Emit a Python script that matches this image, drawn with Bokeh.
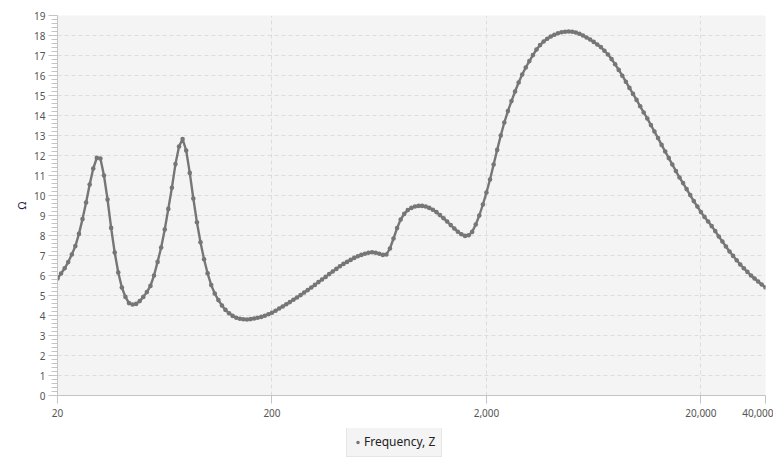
from bokeh.plotting import figure
from bokeh.layouts import column
from bokeh.models import (Range1d, FixedTicker, SingleIntervalTicker, NumeralTickFormatter,
                          Legend, LegendItem, ColumnDataSource)
from bokeh.embed import file_html
from bokeh.resources import INLINE

freq = [
    20.0, 20.78, 21.6, 22.44, 23.32, 24.23, 25.18, 26.16, 27.19, 28.25,
    29.36, 30.5, 31.7, 32.94, 34.23, 35.57, 36.96, 38.4, 39.91, 41.47,
    43.09, 44.77, 46.53, 48.35, 50.24, 52.2, 54.25, 56.37, 58.57, 60.86,
    63.25, 65.72, 68.29, 70.96, 73.74, 76.62, 79.62, 82.74, 85.97, 89.34,
    92.83, 96.46, 100.2, 104.2, 108.2, 112.5, 116.9, 121.4, 126.2, 131.1,
    136.3, 141.6, 147.1, 152.9, 158.9, 165.1, 171.5, 178.3, 185.2, 192.5,
    200, 207.8, 216, 224.4, 233.2, 242.3, 251.8, 261.6, 271.9, 282.5,
    293.6, 305, 317, 329.4, 342.3, 355.7, 369.6, 384, 399.1, 414.7,
    430.9, 447.7, 465.3, 483.5, 502.4, 522, 542.5, 563.7, 585.7, 608.6,
    632.5, 657.2, 682.9, 709.6, 737.4, 766.2, 796.2, 827.4, 859.7, 893.4,
    928.3, 964.6, 1002, 1042, 1082, 1125, 1169, 1214, 1262, 1311,
    1363, 1416, 1471, 1529, 1589, 1651, 1715, 1783, 1852, 1925,
    2000, 2078, 2160, 2244, 2332, 2423, 2518, 2616, 2719, 2825,
    2936, 3050, 3170, 3294, 3423, 3557, 3696, 3840, 3991, 4147,
    4309, 4477, 4653, 4835, 5024, 5220, 5425, 5637, 5857, 6086,
    6325, 6572, 6829, 7096, 7374, 7662, 7962, 8274, 8597, 8934,
    9283, 9646, 10020, 10420, 10820, 11250, 11690, 12140, 12620, 13110,
    13630, 14160, 14710, 15290, 15890, 16510, 17150, 17830, 18520, 19250,
    20000, 20780, 21600, 22440, 23320, 24230, 25180, 26160, 27190, 28250,
    29360, 30500, 31700, 32940, 34230, 35570, 36960, 38400, 40000,
]

impedance = [
    5.85, 6.1, 6.36, 6.67, 7.05, 7.47, 8.08, 8.82, 9.65, 10.55,
    11.35, 11.88, 11.85, 11.0, 9.8, 8.38, 7.15, 6.15, 5.4, 4.93,
    4.62, 4.55, 4.58, 4.72, 4.93, 5.17, 5.48, 6.0, 6.68, 7.4,
    8.3, 9.33, 10.39, 11.57, 12.45, 12.82, 12.25, 11.13, 9.85, 8.66,
    7.66, 6.81, 6.11, 5.52, 5.1, 4.77, 4.5, 4.28, 4.11, 3.98,
    3.89, 3.84, 3.81, 3.8, 3.82, 3.85, 3.89, 3.93, 3.99, 4.06,
    4.14, 4.24, 4.35, 4.45, 4.56, 4.67, 4.79, 4.9, 5.02, 5.15,
    5.27, 5.4, 5.53, 5.67, 5.8, 5.93, 6.07, 6.2, 6.33, 6.46,
    6.58, 6.68, 6.78, 6.88, 6.96, 7.03, 7.09, 7.14, 7.16, 7.14,
    7.09, 7.03, 7.05, 7.35, 7.85, 8.37, 8.8, 9.08, 9.27, 9.38,
    9.45, 9.48, 9.48, 9.45, 9.38, 9.29, 9.17, 9.02, 8.86, 8.7,
    8.52, 8.35, 8.19, 8.06, 7.98, 8.01, 8.18, 8.55, 9.0, 9.55,
    10.15, 10.8, 11.55, 12.28, 13.0, 13.65, 14.22, 14.72, 15.2, 15.65,
    16.05, 16.4, 16.72, 17.02, 17.3, 17.52, 17.7, 17.84, 17.95, 18.04,
    18.11, 18.16, 18.19, 18.2, 18.19, 18.15, 18.09, 18.0, 17.9, 17.8,
    17.68, 17.55, 17.42, 17.24, 17.05, 16.82, 16.56, 16.28, 15.99, 15.69,
    15.38, 15.08, 14.78, 14.46, 14.15, 13.85, 13.52, 13.2, 12.87, 12.53,
    12.2, 11.87, 11.55, 11.22, 10.9, 10.62, 10.32, 10.02, 9.72, 9.45,
    9.17, 8.93, 8.7, 8.47, 8.22, 7.95, 7.7, 7.45, 7.2, 6.98,
    6.76, 6.55, 6.36, 6.18, 6.0, 5.85, 5.7, 5.55, 5.4,
]

x_ticks = [20, 200, 2000, 20000, 40000]
series_name = "Frequency, Z"
y_label = "Ω"

FONT = "Noto Sans"
LINE = "#767676"

src = ColumnDataSource(data=dict(f=freq, z=impedance))

p = figure(frame_width=708, frame_height=380, x_axis_type="log",
           output_backend="svg", toolbar_location=None,
           x_range=Range1d(20, 40000), y_range=Range1d(0, 19),
           min_border_left=57, min_border_right=8, min_border_top=15,
           min_border_bottom=33)

p.background_fill_color = "#f4f4f4"
p.border_fill_color = "white"
p.outline_line_color = None

line_r = p.line("f", "z", source=src, line_color=LINE, line_width=2.4)
dot_r = p.scatter("f", "z", source=src, size=4.6, fill_color=LINE, line_color=None)

# grids
for g in (p.xgrid, p.ygrid):
    g.grid_line_color = "#dcdcdc"
    g.grid_line_dash = "4 3"
    g.grid_line_width = 1

# x axis
xa = p.xaxis[0]
xa.ticker = FixedTicker(ticks=x_ticks, minor_ticks=[])
xa.formatter = NumeralTickFormatter(format="0,0")
xa.axis_line_color = "#c4c4c4"
xa.major_tick_line_color = "#c4c4c4"
xa.major_tick_out = 8
xa.major_tick_in = 0
xa.minor_tick_line_color = None
xa.major_label_text_font = FONT
xa.major_label_text_font_size = "10px"
xa.major_label_text_color = "#555555"
xa.major_label_standoff = 5

# y axis
ya = p.yaxis[0]
ya.ticker = SingleIntervalTicker(interval=1, num_minor_ticks=5)
ya.axis_line_color = "#c4c4c4"
ya.major_tick_line_color = "#c4c4c4"
ya.minor_tick_line_color = "#c4c4c4"
ya.major_tick_out = 9
ya.major_tick_in = 0
ya.minor_tick_out = 6
ya.minor_tick_in = 0
ya.major_label_text_font = FONT
ya.major_label_text_font_size = "10px"
ya.major_label_text_color = "#555555"
ya.major_label_standoff = 3
ya.axis_label = y_label
ya.axis_label_text_font = FONT
ya.axis_label_text_font_size = "11px"
ya.axis_label_text_font_style = "normal"
ya.axis_label_text_color = "#1a1a4a"
ya.axis_label_standoff = 2

# legend strip below the chart
lg = figure(width=773, height=34, output_backend="svg", toolbar_location=None,
            x_range=Range1d(0, 1), y_range=Range1d(0, 1),
            x_axis_location=None, y_axis_location=None,
            min_border=0)
lg.grid.visible = False
lg.outline_line_color = None
lg.background_fill_color = "white"
lg.border_fill_color = "white"
key_r = lg.scatter(x=[-5], y=[-5], size=5, fill_color=LINE, line_color=None)

legend = Legend(items=[LegendItem(label=series_name, renderers=[key_r])],
                location=(289, 5), orientation="horizontal",
                label_text_font=FONT, label_text_font_size="12px",
                label_text_color="#222222",
                glyph_width=9, glyph_height=12, label_standoff=2,
                padding=6, spacing=0, margin=0,
                background_fill_color="#f4f4f4", background_fill_alpha=1,
                border_line_color="#d8d8d8", border_line_width=1)
lg.add_layout(legend, "center")

layout = column(p, lg, spacing=0)
open("out.html", "w").write(file_html(layout, INLINE))
